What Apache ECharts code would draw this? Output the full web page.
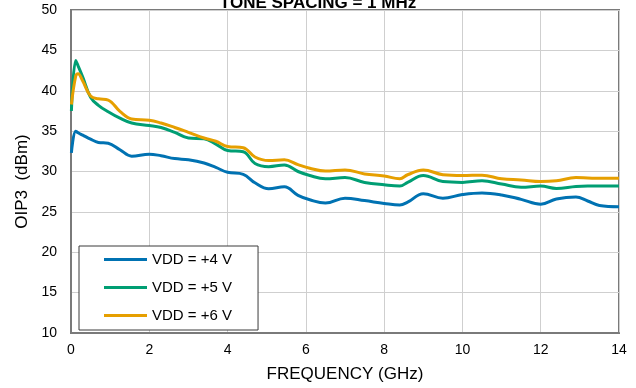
<!DOCTYPE html>
<html>
<head>
<meta charset="utf-8">
<script src="https://cdn.jsdelivr.net/npm/echarts@6/dist/echarts.min.js"></script>
<style>
  html, body { margin: 0; padding: 0; background: #ffffff; }
  #chart { width: 636px; height: 388px; }
</style>
</head>
<body>
<div id="chart"></div>
<script>
// Frequency points (GHz) shared by all three supply curves
const frequencyGHz = [0.01, 0.12, 0.18, 0.3, 0.5, 0.7, 0.95, 1.25, 1.55, 2.0, 2.3, 2.65, 3.0, 3.4, 3.7, 4.0, 4.4, 4.7, 5.05, 5.45, 5.8, 6.1, 6.5, 7.0, 7.5, 8.0, 8.4, 8.6, 9.0, 9.5, 10.0, 10.5, 11.0, 11.5, 12.0, 12.4, 12.9, 13.2, 13.5, 14.0];

// OIP3 (dBm) per supply voltage
const oip3Vdd4 = [32.3, 35.0, 34.8, 34.5, 34.0, 33.6, 33.5, 32.7, 31.9, 32.15, 31.95, 31.6, 31.45, 31.05, 30.5, 29.9, 29.65, 28.6, 27.85, 28.1, 27.05, 26.5, 26.1, 26.7, 26.4, 26.05, 25.85, 26.2, 27.25, 26.7, 27.15, 27.35, 27.1, 26.55, 25.95, 26.6, 26.85, 26.35, 25.8, 25.65];
const oip3Vdd5 = [37.5, 43.75, 43.1, 41.7, 39.2, 38.2, 37.4, 36.6, 36.0, 35.7, 35.45, 34.85, 34.15, 34.05, 33.4, 32.6, 32.45, 31.0, 30.6, 30.8, 30.0, 29.5, 29.1, 29.25, 28.65, 28.35, 28.2, 28.65, 29.5, 28.75, 28.65, 28.85, 28.45, 28.05, 28.2, 27.9, 28.15, 28.2, 28.2, 28.2];
const oip3Vdd6 = [38.3, 41.8, 42.1, 41.2, 39.35, 39.0, 38.85, 37.45, 36.5, 36.35, 36.0, 35.45, 34.85, 34.15, 33.75, 33.1, 32.95, 31.8, 31.35, 31.45, 30.85, 30.4, 30.05, 30.2, 29.7, 29.45, 29.1, 29.6, 30.2, 29.6, 29.5, 29.55, 29.1, 28.95, 28.75, 28.85, 29.25, 29.2, 29.15, 29.15];

const seriesNames = ['VDD = +4 V', 'VDD = +5 V', 'VDD = +6 V'];
const seriesColors = ['#0072B2', '#009E73', '#E69F00'];
const seriesValues = [oip3Vdd4, oip3Vdd5, oip3Vdd6];

const FONT = 'Liberation Sans, Arial, sans-serif';

const chart = echarts.init(document.getElementById('chart'), null, { renderer: 'canvas' });

chart.setOption({
  animation: false,
  backgroundColor: '#ffffff',
  title: {
    text: 'TONE SPACING = 1 MHz',
    left: 'center',
    top: -5,
    padding: 0,
    textStyle: { fontFamily: FONT, fontSize: 17, fontWeight: 'bold', color: '#000' }
  },
  grid: {
    left: 71, right: 17, top: 10, bottom: 53,
    show: true, borderColor: '#7a7a7a', borderWidth: 2, backgroundColor: 'transparent'
  },
  legend: {
    orient: 'vertical',
    left: 79, top: 246,
    padding: [6, 26, 7, 25],
    backgroundColor: '#ffffff',
    borderColor: '#3a3a3a',
    borderWidth: 1,
    borderRadius: 0,
    itemWidth: 43,
    itemHeight: 3,
    itemGap: 13,
    icon: 'rect',
    data: seriesNames,
    textStyle: { fontFamily: FONT, fontSize: 15, color: '#000', padding: [0, 0, 0, 0] }
  },
  xAxis: {
    type: 'value',
    min: 0, max: 14, interval: 2,
    name: 'FREQUENCY (GHz)',
    nameLocation: 'middle',
    nameGap: 33,
    nameTextStyle: { fontFamily: FONT, fontSize: 17, color: '#000' },
    axisLine: { show: true, lineStyle: { color: '#7a7a7a', width: 2 } },
    axisTick: { show: false },
    axisLabel: { fontFamily: FONT, fontSize: 14, color: '#000', margin: 10 },
    splitLine: { show: true, lineStyle: { color: '#cfcfcf', width: 1 } }
  },
  yAxis: {
    type: 'value',
    min: 10, max: 50, interval: 5,
    name: 'OIP3  (dBm)',
    nameLocation: 'middle',
    nameGap: 40,
    nameTextStyle: { fontFamily: FONT, fontSize: 17, color: '#000', padding: [0, 20, 0, 0] },
    axisLine: { show: true, lineStyle: { color: '#7a7a7a', width: 2 } },
    axisTick: { show: false },
    axisLabel: { fontFamily: FONT, fontSize: 14, color: '#000', margin: 14 },
    splitLine: { show: true, lineStyle: { color: '#cfcfcf', width: 1 } }
  },
  series: seriesNames.map((name, i) => ({
    name: name,
    type: 'line',
    data: frequencyGHz.map((f, j) => [f, seriesValues[i][j]]),
    smooth: 0.4,
    showSymbol: false,
    symbol: 'none',
    color: seriesColors[i],
    lineStyle: { color: seriesColors[i], width: 3 },
    z: 3 + i
  }))
});
</script>
</body>
</html>
